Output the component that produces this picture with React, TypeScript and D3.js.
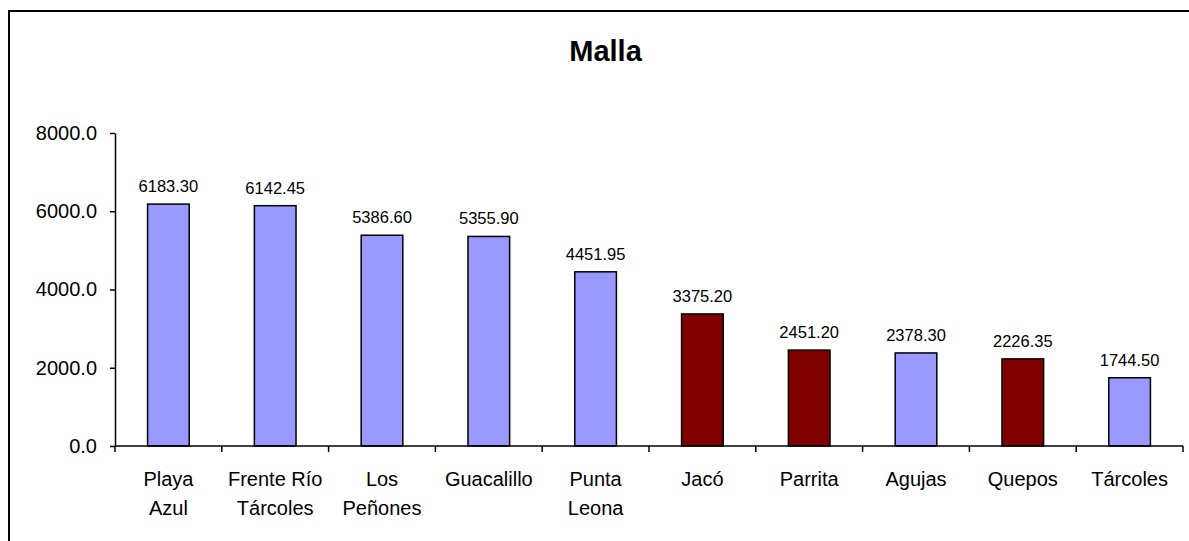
import { useEffect, useRef } from 'react'
import * as d3 from 'd3'

const categories = ['Playa Azul', 'Frente Río Tárcoles', 'Los Peñones', 'Guacalillo', 'Punta Leona', 'Jacó', 'Parrita', 'Agujas', 'Quepos', 'Tárcoles']
const categoryLines = [['Playa', 'Azul'], ['Frente Río', 'Tárcoles'], ['Los', 'Peñones'], ['Guacalillo'], ['Punta', 'Leona'], ['Jacó'], ['Parrita'], ['Agujas'], ['Quepos'], ['Tárcoles']]
const values = [6183.3, 6142.45, 5386.6, 5355.9, 4451.95, 3375.2, 2451.2, 2378.3, 2226.35, 1744.5]
const highlighted = ['Jacó', 'Parrita', 'Quepos']
const yTicks = [0, 2000, 4000, 6000, 8000]

export default function App() {
    const svgRef = useRef<SVGSVGElement>(null)
    const width = 1189
    const height = 541

    useEffect(() => {
        if (!svgRef.current) return
        const svg = d3.select(svgRef.current)
        svg.selectAll('*').remove()
        const font = '"Liberation Sans", Arial, sans-serif'

        // outer frame (runs off the right and bottom edges)
        svg.append('rect')
            .attr('x', 9).attr('y', 11)
            .attr('width', width + 20).attr('height', height + 20)
            .attr('fill', 'white')
            .attr('stroke', 'black')
            .attr('stroke-width', 2)

        svg.append('text')
            .attr('x', 605.5).attr('y', 61)
            .attr('text-anchor', 'middle')
            .style('font-family', font)
            .style('font-size', '29px')
            .style('font-weight', 'bold')
            .text('Malla')

        const x = d3.scaleBand<string>()
            .domain(categories)
            .range([115, 1183])
            .paddingInner(0.61)
            .paddingOuter(0.305)

        const y = d3.scaleLinear().domain([0, 8000]).range([446, 133])

        // y axis
        const yAxis = svg.append('g')
            .attr('transform', 'translate(115,0)')
            .call(d3.axisLeft(y).tickValues(yTicks).tickSize(5).tickSizeOuter(0).tickPadding(13).tickFormat(d => (+d).toFixed(1)))
        yAxis.select('.domain').attr('stroke', 'black').attr('stroke-width', 1.5)
        yAxis.selectAll('.tick line').attr('stroke', 'black').attr('stroke-width', 1.5)
        yAxis.selectAll('.tick text')
            .attr('fill', 'black')
            .style('font-family', font)
            .style('font-size', '20px')

        // bars
        const step = x.step()
        const bars = svg.append('g')
        bars.selectAll('rect')
            .data(values)
            .enter()
            .append('rect')
            .attr('x', (d, i) => x(categories[i])!)
            .attr('y', d => y(d))
            .attr('width', x.bandwidth())
            .attr('height', d => y(0) - y(d))
            .attr('fill', (d, i) => highlighted.includes(categories[i]) ? '#800000' : '#9999FF')
            .attr('stroke', 'black')
            .attr('stroke-width', 1.5)

        // value labels
        bars.selectAll('text')
            .data(values)
            .enter()
            .append('text')
            .attr('x', (d, i) => x(categories[i])! + x.bandwidth() / 2)
            .attr('y', d => y(d) - 12)
            .attr('text-anchor', 'middle')
            .style('font-family', font)
            .style('font-size', '16.5px')
            .text(d => d.toFixed(2))

        // x axis
        svg.append('line')
            .attr('x1', 115).attr('x2', 1183)
            .attr('y1', y(0)).attr('y2', y(0))
            .attr('stroke', 'black').attr('stroke-width', 1.5)

        svg.append('g').selectAll('line')
            .data(d3.range(categories.length + 1))
            .enter()
            .append('line')
            .attr('x1', i => 115 + i * step).attr('x2', i => 115 + i * step)
            .attr('y1', y(0)).attr('y2', y(0) + 6)
            .attr('stroke', 'black').attr('stroke-width', 1.5)

        const labels = svg.append('g').selectAll('text')
            .data(categoryLines)
            .enter()
            .append('text')
            .attr('text-anchor', 'middle')
            .style('font-family', font)
            .style('font-size', '20px')
            .attr('transform', (d, i) => `translate(${x(categories[i])! + x.bandwidth() / 2}, 486)`)

        labels.selectAll('tspan')
            .data(d => d)
            .enter()
            .append('tspan')
            .attr('x', 0)
            .attr('y', (d, i) => i * 29)
            .text(d => d)
    }, [])

    return (
        <div style={{ position: 'absolute', left: 0, top: 0 }}>
            <svg ref={svgRef} width={width} height={height} style={{ display: 'block' }}></svg>
        </div>
    )
}
